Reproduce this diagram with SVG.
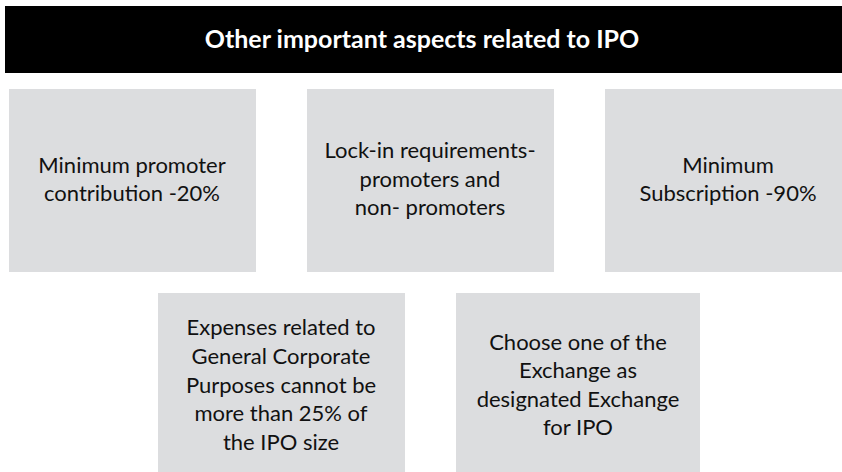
<svg xmlns="http://www.w3.org/2000/svg" width="842" height="472" viewBox="0 0 842 472">
<style>
.box{fill:#dcdddf}
.t{font-family:Lato,"Liberation Sans",sans-serif;font-size:22px;fill:#111;text-anchor:middle}
.h{font-family:Lato,"Liberation Sans",sans-serif;font-size:25px;font-weight:bold;fill:#fff;text-anchor:middle}
</style>
<rect width="842" height="472" fill="#fff"/>
<g id="header">
<rect x="5" y="6" width="842" height="67" fill="#000"/>
<text class="h" x="422" y="48">Other important aspects related to IPO</text>
</g>
<g id="node-promoter">
<rect class="box" x="9" y="89" width="247" height="183"/>
<text class="t" x="132" y="173">Minimum promoter</text>
<text class="t" x="132" y="201">contribution -20%</text>
</g>
<g id="node-lockin">
<rect class="box" x="307" y="89" width="247" height="183"/>
<text class="t" x="430" y="158">Lock-in requirements-</text>
<text class="t" x="430" y="187">promoters and</text>
<text class="t" x="430" y="215">non- promoters</text>
</g>
<g id="node-subscription">
<rect class="box" x="605" y="89" width="247" height="183"/>
<text class="t" x="728" y="173">Minimum</text>
<text class="t" x="728" y="201">Subscription -90%</text>
</g>
<g id="node-expenses">
<rect class="box" x="158" y="293" width="247" height="183"/>
<text class="t" x="281" y="335">Expenses related to</text>
<text class="t" x="281" y="364">General Corporate</text>
<text class="t" x="281" y="393">Purposes cannot be</text>
<text class="t" x="281" y="421">more than 25% of</text>
<text class="t" x="281" y="450">the IPO size</text>
</g>
<g id="node-exchange">
<rect class="box" x="456" y="293" width="244" height="183"/>
<text class="t" x="578" y="350">Choose one of the</text>
<text class="t" x="578" y="378">Exchange as</text>
<text class="t" x="578" y="407">designated Exchange</text>
<text class="t" x="578" y="435">for IPO</text>
</g>
</svg>
